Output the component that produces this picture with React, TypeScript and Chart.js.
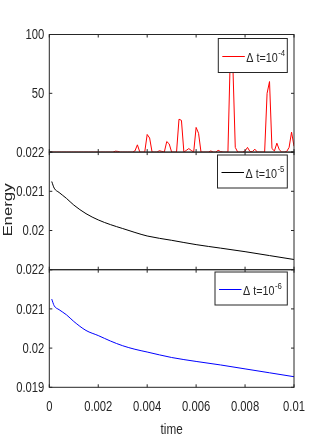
import React, { useEffect, useRef } from 'react';
import { Chart, registerables } from 'chart.js';

Chart.register(...registerables);

// ---- data ----
const redStep = 1e-4; // Δt = 10^-4 : sample spacing of the red series
const redValues = [
  0.022, 0.022, 0.022, 0.022, 0.022, 0.022, 0.022, 0.022, 0.022, 0.022, // 0-9
  0.022, 0.022, 0.022, 0.022, 0.022, 0.022, 0.022, 0.022, 0.022, 0.022, // 10-19
  0.022, 0.022, 0.022, 0.022, 0.022, 0.022, 0.022, 0.8, 0.6, 0.022, // 20-29
  0.022, 0.022, 0.022, 0.022, 0.022, 1.0, 6.2, 0.022, 0.022, 0.022, // 30-39
  15, 12, 0.022, 0.022, 0.022, 1.2, 0.6, 0.022, 9, 7, // 40-49
  0.022, 0.022, 0.022, 28, 27, 0.022, 1.5, 3, 1.5, 0.022, // 50-59
  21, 16, 0.022, 0.022, 0.022, 0.022, 1, 0.022, 0.022, 1.5, // 60-69
  0.5, 0.022, 0.022, 0.022, 85, 75, 4, 0.022, 0.022, 0.022, // 70-79
  1, 4, 0.5, 0.5, 2.5, 0.022, 0.022, 0.022, 0.022, 50, // 80-89
  60, 3, 1, 7.6, 2, 0.022, 0.022, 0.5, 4, 17, // 90-99
  5, // 100
];

const energyTimes = [0.0001, 0.0002, 0.0004, 0.0007, 0.001, 0.0015, 0.002, 0.0025, 0.003, 0.0035, 0.004, 0.005, 0.006, 0.007, 0.008, 0.009, 0.01];
const blackValues = [0.02125, 0.02108, 0.02097, 0.02082, 0.02065, 0.02043, 0.02027, 0.02015, 0.02005, 0.01995, 0.01986, 0.01975, 0.01964, 0.01955, 0.01946, 0.01936, 0.01926];
const blueValues = [0.02125, 0.02108, 0.02098, 0.02085, 0.02068, 0.02045, 0.02032, 0.02018, 0.02006, 0.01997, 0.0199, 0.01976, 0.01966, 0.01957, 0.01947, 0.01937, 0.01927];

const xTicks = [0, 0.002, 0.004, 0.006, 0.008, 0.01];
const topTicks = [0.022, 50, 100];
const midTickLabels = [0.02, 0.021];
const midTickMarks = [0.019, 0.02, 0.021, 0.022];
const botTicks = [0.019, 0.02, 0.021, 0.022];

const legendBase = ['Δ t=10', 'Δ t=10', 'Δ t=10'];
const legendExp = ['-4', '-5', '-6'];
const seriesColors = ['#ff0000', '#000000', '#0000ff'];

const xTitle = 'time';
const yTitle = 'Energy';

const REG = "'Liberation Sans', Arial, sans-serif";
const AX = '#262626';
const TICK_SIZE = 15;
const TICK_SX = 0.75; // horizontal squeeze of the tick text (the figure is stretched vertically)

function fixedTicks(arr: number[]) {
  return (s: any) => {
    s.ticks = arr.map((v) => ({ value: v }));
  };
}

function yScale(min: number, max: number, labels: number[]) {
  return {
    type: 'linear',
    position: 'left',
    stack: 'energy',
    stackWeight: 1,
    min,
    max,
    afterBuildTicks: fixedTicks(labels),
    afterFit: (s: any) => {
      s.width = 49.3;
    },
    ticks: {
      display: false,
      autoSkip: false,
      callback: (v: any) => String(v),
    },
    grid: { display: false, drawTicks: false },
    border: { display: false },
  };
}

function sText(
  ctx: CanvasRenderingContext2D,
  text: string,
  x: number,
  y: number,
  size: number,
  sx: number,
  align: CanvasTextAlign,
  baseline: CanvasTextBaseline
) {
  ctx.save();
  ctx.translate(x, y);
  ctx.scale(sx, 1);
  ctx.font = `${size}px ${REG}`;
  ctx.textAlign = align;
  ctx.textBaseline = baseline;
  ctx.fillText(text, 0, 0);
  const w = ctx.measureText(text).width * sx;
  ctx.restore();
  return w;
}

function drawLegend(ctx: CanvasRenderingContext2D, x0: number, y0: number, x1: number, y1: number, i: number) {
  ctx.fillStyle = '#ffffff';
  ctx.fillRect(x0, y0, x1 - x0, y1 - y0);
  ctx.strokeStyle = AX;
  ctx.lineWidth = 1;
  ctx.strokeRect(x0, y0, x1 - x0, y1 - y0);
  const cy = (y0 + y1) / 2;
  const ly = Math.round(cy) + 0.5;
  ctx.strokeStyle = seriesColors[i];
  ctx.beginPath();
  ctx.moveTo(x0 + 4, ly);
  ctx.lineTo(x0 + 26.5, ly);
  ctx.stroke();
  ctx.fillStyle = AX;
  const w = sText(ctx, legendBase[i], x0 + 28, cy + 6.2, 12.5, 0.86, 'left', 'alphabetic');
  sText(ctx, legendExp[i], x0 + 28 + w + 0.5, cy + 0.2, 9, 0.86, 'left', 'alphabetic');
}

const panelsPlugin = {
  id: 'panels',
  afterDatasetsDraw(chart: any) {
    const ctx: CanvasRenderingContext2D = chart.ctx;
    const xs = chart.scales.x;
    const panels = [
      { s: chart.scales.yTop, marks: topTicks, labels: topTicks },
      { s: chart.scales.yMid, marks: midTickMarks, labels: midTickLabels },
      { s: chart.scales.yBot, marks: botTicks, labels: botTicks },
    ];
    ctx.save();
    ctx.strokeStyle = AX;
    ctx.lineWidth = 1;
    const L = xs.left;
    const R = xs.right;
    const tl = 3;
    for (const p of panels) {
      const T = p.s.top;
      const B = p.s.bottom;
      ctx.strokeRect(L, T, R - L, B - T);
      ctx.beginPath();
      for (const v of p.marks) {
        const y = p.s.getPixelForValue(v);
        ctx.moveTo(L, y);
        ctx.lineTo(L + tl, y);
        ctx.moveTo(R, y);
        ctx.lineTo(R - tl, y);
      }
      for (const v of xTicks) {
        const x = xs.getPixelForValue(v);
        ctx.moveTo(x, B);
        ctx.lineTo(x, B - tl);
        ctx.moveTo(x, T);
        ctx.lineTo(x, T + tl);
      }
      ctx.stroke();
    }

    // tick labels
    ctx.fillStyle = AX;
    for (const p of panels) {
      for (const v of p.labels) {
        sText(ctx, String(v), L - 5, p.s.getPixelForValue(v) + 0.5, TICK_SIZE, TICK_SX, 'right', 'middle');
      }
    }
    for (const v of xTicks) {
      sText(ctx, String(v), xs.getPixelForValue(v), 411, TICK_SIZE, TICK_SX, 'center', 'alphabetic');
    }

    // legends
    drawLegend(ctx, 218.3, 38.5, 287.3, 72.5, 0);
    drawLegend(ctx, 217.5, 155, 287.3, 188, 1);
    drawLegend(ctx, 215, 272, 287.3, 305, 2);

    // axis titles
    ctx.fillStyle = AX;
    sText(ctx, xTitle, (L + R) / 2, 433.5, 15, 0.78, 'center', 'alphabetic');

    ctx.save();
    ctx.translate(11.6, 210);
    ctx.rotate(-Math.PI / 2);
    ctx.scale(1.4, 1);
    ctx.font = `12px ${REG}`;
    ctx.textAlign = 'center';
    ctx.textBaseline = 'alphabetic';
    ctx.fillText(yTitle, 0, 0);
    ctx.restore();

    ctx.restore();
  },
};

export default function App() {
  const ref = useRef<HTMLCanvasElement>(null);
  useEffect(() => {
    if (!ref.current) return;
    const redData = redValues.map((v, i) => ({ x: i * redStep, y: v }));
    const blackData = energyTimes.map((t, i) => ({ x: t, y: blackValues[i] }));
    const blueData = energyTimes.map((t, i) => ({ x: t, y: blueValues[i] }));
    const chart = new Chart(ref.current, {
      type: 'line',
      data: {
        datasets: [
          { label: 'Δ t=10^-4', data: redData, yAxisID: 'yTop', borderColor: seriesColors[0], borderWidth: 1, pointRadius: 0, tension: 0 },
          { label: 'Δ t=10^-5', data: blackData, yAxisID: 'yMid', borderColor: seriesColors[1], borderWidth: 1, pointRadius: 0, cubicInterpolationMode: 'monotone' },
          { label: 'Δ t=10^-6', data: blueData, yAxisID: 'yBot', borderColor: seriesColors[2], borderWidth: 1, pointRadius: 0, cubicInterpolationMode: 'monotone' },
        ],
      } as any,
      options: {
        responsive: false,
        animation: false,
        devicePixelRatio: 1,
        layout: { padding: { left: 0, top: 34.5, right: 33, bottom: 0 } },
        plugins: { legend: { display: false }, tooltip: { enabled: false }, title: { display: false } },
        scales: {
          x: {
            type: 'linear',
            position: 'bottom',
            min: 0,
            max: 0.01,
            afterBuildTicks: fixedTicks(xTicks),
            afterFit: (s: any) => {
              s.height = 48.7;
            },
            ticks: {
              display: false,
              autoSkip: false,
              maxRotation: 0,
              callback: (v: any) => String(v),
            },
            grid: { display: false, drawTicks: false },
            border: { display: false },
          },
          // stacked scales are laid out bottom-up in definition order
          yBot: yScale(0.019, 0.022, botTicks),
          yMid: yScale(0.019, 0.022, midTickLabels),
          yTop: yScale(0.022, 100, topTicks),
        } as any,
      },
      plugins: [panelsPlugin],
    });
    return () => chart.destroy();
  }, []);
  return (
    <div style={{ position: 'fixed', left: 0, top: 0, width: 327, height: 436, background: '#fff' }}>
      <canvas ref={ref} width={327} height={436} style={{ width: 327, height: 436, display: 'block' }} />
    </div>
  );
}
